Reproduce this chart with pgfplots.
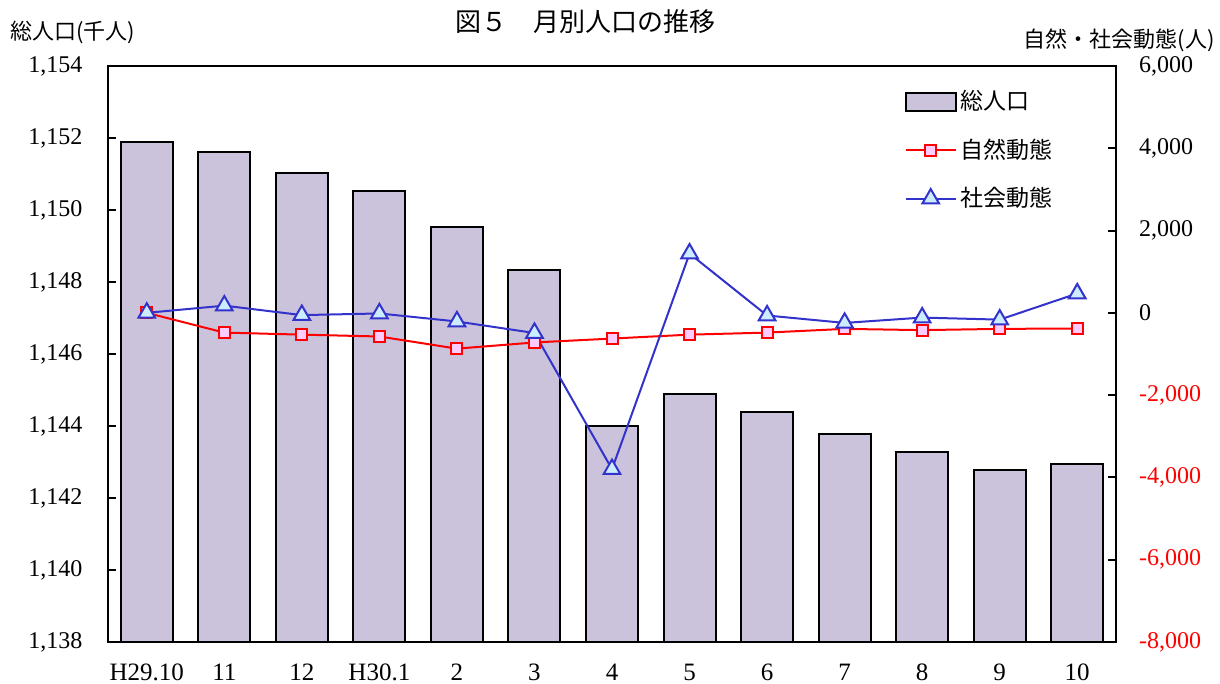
\documentclass[border=0pt]{standalone}
\usepackage{pgfplots}
\pgfplotsset{compat=1.18}
\usepackage{fontspec}
\setmainfont{Liberation Serif}
\newfontfamily\jp{Noto Sans CJK JP}
\definecolor{barfill}{HTML}{CBC2DB}
\definecolor{redline}{HTML}{FF0000}
\definecolor{pinkfill}{HTML}{FFCCFF}
\definecolor{blueline}{HTML}{3333CC}
\definecolor{bluefill}{HTML}{CCECFF}
\begin{document}
\begin{tikzpicture}
\path[use as bounding box] (-54pt,-21pt) rectangle (556pt,321pt);
\begin{axis}[
  scale only axis, width=504pt, height=288pt,
  xmin=-0.5, xmax=12.5, ymin=1138, ymax=1154,
  line width=1pt,
  xtick={0,...,12},
  xticklabels={H29.10,11,12,H30.1,2,3,4,5,6,7,8,9,10},
  xtick style={draw=none},
  xticklabel style={font=\fontsize{12.5}{14}\selectfont, yshift=-7pt},
  ytick={1138,1140,...,1154},
  yticklabels={{1,138},{1,140},{1,142},{1,144},{1,146},{1,148},{1,150},{1,152},{1,154}},
  ytick pos=left,
  yticklabel style={font=\fontsize{12}{14}\selectfont},
  yticklabel shift=9pt,
  tick align=inside, major tick length=4pt,
  tick style={line width=1pt, black},
  axis line style={line width=1pt},
]
\addplot[ybar, bar width=26pt, fill=barfill, draw=black, line width=1pt] coordinates {
(0,1151.875) (1,1151.6) (2,1151.04) (3,1150.54) (4,1149.54) (5,1148.32)
(6,1144.0) (7,1144.89) (8,1144.39) (9,1143.79) (10,1143.29) (11,1142.78) (12,1142.94)};
\end{axis}
\begin{axis}[
  scale only axis, width=504pt, height=288pt,
  xmin=-0.5, xmax=12.5, ymin=-8000, ymax=6000,
  axis x line=none, axis y line*=right,
  ytick={-8000,-6000,...,6000},
  yticklabels={\textcolor{red}{-8,000},\textcolor{red}{-6,000},\textcolor{red}{-4,000},\textcolor{red}{-2,000},{0},{2,000},{4,000},{6,000}},
  yticklabel style={font=\fontsize{12}{14}\selectfont},
  yticklabel shift=8pt,
  tick align=inside, major tick length=4pt,
  tick style={line width=1pt, black},
  axis line style={line width=1pt},
  legend style={draw=none, fill=none, at={(0.79,0.965)}, anchor=north west,
    font=\jp\fontsize{11.5}{13}\selectfont, row sep=9pt, inner sep=0pt,
    nodes={inner sep=2pt}},
  legend cell align=left,
  legend image code/.code={\draw[mark repeat=2,mark phase=2] plot coordinates {(0pt,0pt)(12.5pt,0pt)(25pt,0pt)};},
]
\addlegendimage{legend image code/.code={\draw[fill=barfill,draw=black,line width=1pt] (0pt,-4.5pt) rectangle (25pt,4.5pt);}}
\addlegendentry{総人口}
\addplot[redline, line width=1pt, mark=square*, mark size=2.75pt,
  mark options={fill=pinkfill, draw=redline, line width=1pt}] coordinates {
(0,0) (1,-480) (2,-530) (3,-575) (4,-870) (5,-720) (6,-625) (7,-530)
(8,-480) (9,-390) (10,-420) (11,-390) (12,-380)};
\addlegendentry{自然動態}
\addplot[blueline, line width=1pt, mark=triangle*, mark size=4.8pt,
  mark options={fill=bluefill, draw=blueline, line width=1pt}] coordinates {
(0,0) (1,175) (2,-55) (3,-15) (4,-210) (5,-490) (6,-3800) (7,1440)
(8,-65) (9,-245) (10,-115) (11,-165) (12,470)};
\addlegendentry{社会動態}
\end{axis}
\node[font=\jp\fontsize{13}{15}\selectfont] at (238.5pt,310pt) {図５　月別人口の推移};
\node[font=\jp\fontsize{11}{13}\selectfont, anchor=west, inner sep=0pt] at (-49pt,305pt) {総人口(千人)};
\node[font=\jp\fontsize{11}{13}\selectfont, anchor=east, inner sep=0pt] at (553.5pt,301pt) {自然・社会動態(人)};
\end{tikzpicture}
\end{document}
